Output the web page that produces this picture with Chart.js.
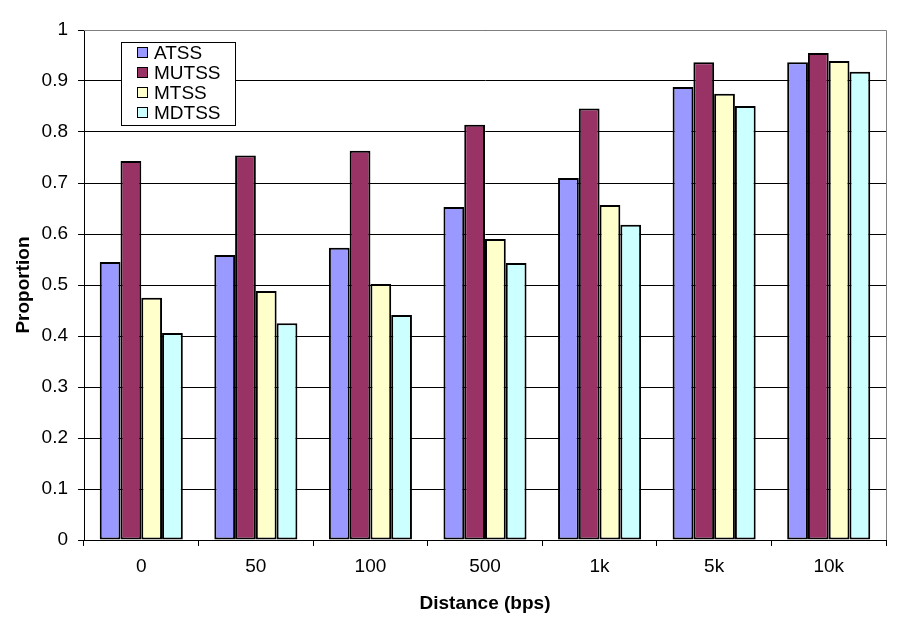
<!DOCTYPE html>
<html>
<head>
<meta charset="utf-8">
<script src="https://cdn.jsdelivr.net/npm/chart.js@4/dist/chart.umd.min.js"></script>
<style>
  html, body { margin: 0; padding: 0; background: #fff; }
  #wrap { width: 911px; height: 623px; }
</style>
</head>
<body>
<div id="wrap"><canvas id="chart" width="911" height="623"></canvas></div>
<script>
// ── Data ──────────────────────────────────────────────────
const categories = ["0", "50", "100", "500", "1k", "5k", "10k"];
const atss  = [0.545, 0.559, 0.573, 0.653, 0.710, 0.888, 0.937];
const mutss = [0.743, 0.754, 0.763, 0.814, 0.846, 0.937, 0.955];
const mtss  = [0.475, 0.488, 0.502, 0.590, 0.657, 0.875, 0.939];
const mdtss = [0.406, 0.425, 0.441, 0.543, 0.618, 0.851, 0.918];
const seriesNames = ["ATSS", "MUTSS", "MTSS", "MDTSS"];
const seriesColors = ["#9999FF", "#993366", "#FFFFCC", "#CCFFFF"];

const FONT = "'Liberation Sans', Arial, sans-serif";

// ── Plugins ───────────────────────────────────────────────
// gray frame on top and right of the plot, like Excel
const frame = {
  id: "frame",
  beforeDatasetsDraw(chart) {
    const { ctx, chartArea: a } = chart;
    ctx.save();
    ctx.strokeStyle = "#808080";
    ctx.lineWidth = 1;
    ctx.beginPath();
    ctx.moveTo(a.left, a.top + 0.5);
    ctx.lineTo(a.right + 0.5, a.top + 0.5);
    ctx.lineTo(a.right + 0.5, a.bottom);
    ctx.stroke();
    ctx.restore();
  },
};

// legend box inside the plot area
const boxLegend = {
  id: "boxLegend",
  afterDraw(chart) {
    const { ctx } = chart;
    const x = 121.5, y = 42.5, w = 114, h = 83;
    ctx.save();
    ctx.fillStyle = "#fff";
    ctx.strokeStyle = "#000";
    ctx.lineWidth = 1;
    ctx.fillRect(x, y, w, h);
    ctx.strokeRect(x, y, w, h);
    ctx.font = `19px ${FONT}`;
    ctx.textBaseline = "middle";
    chart.data.datasets.forEach((ds, i) => {
      const cy = 53 + i * 20;
      ctx.fillStyle = ds.backgroundColor;
      ctx.fillRect(137.5, cy - 5.5, 10, 10);
      ctx.strokeRect(137.5, cy - 5.5, 10, 10);
      ctx.fillStyle = "#000";
      ctx.fillText(ds.label, 154, cy + 1);
    });
    ctx.restore();
  },
};

// ── Chart ─────────────────────────────────────────────────
new Chart(document.getElementById("chart"), {
  type: "bar",
  data: {
    labels: categories,
    datasets: [atss, mutss, mtss, mdtss].map((d, i) => ({
      label: seriesNames[i],
      data: d,
      backgroundColor: seriesColors[i],
      borderColor: "#000",
      borderWidth: 2,
      borderSkipped: false,
      categoryPercentage: 0.725,
      barPercentage: 1,
    })),
  },
  options: {
    responsive: false,
    animation: false,
    devicePixelRatio: 1,
    layout: { padding: { left: 0, top: 30, right: 25, bottom: 0 } },
    plugins: { legend: { display: false }, tooltip: { enabled: false } },
    scales: {
      x: {
        afterFit: (s) => { s.height = 83; },
        grid: { offset: true, drawOnChartArea: false, color: "#000", tickLength: 6 },
        border: { color: "#000" },
        ticks: { color: "#000", font: { family: FONT, size: 19 }, padding: 9 },
        title: {
          display: true, text: "Distance (bps)", color: "#000",
          font: { family: FONT, size: 19, weight: "bold" }, padding: { top: 4, bottom: 8 },
        },
      },
      y: {
        min: 0, max: 1,
        afterFit: (s) => { s.width = 84; },
        grid: { color: "#000", tickLength: 6 },
        border: { color: "#000" },
        ticks: { stepSize: 0.1, color: "#000", font: { family: FONT, size: 19 }, padding: 10,
          callback: (v) => +v.toFixed(1) },
        title: {
          display: true, text: "Proportion", color: "#000",
          font: { family: FONT, size: 19, weight: "bold" }, padding: { top: 12 },
        },
      },
    },
  },
  plugins: [frame, boxLegend],
});
</script>
</body>
</html>
